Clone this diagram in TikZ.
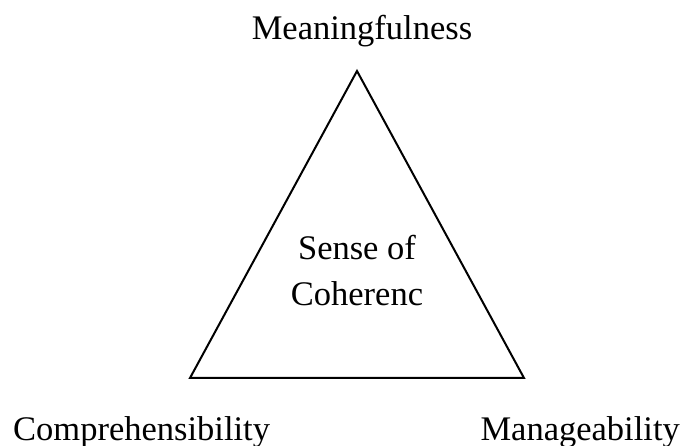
\documentclass[tikz,border=0pt]{standalone}
\usepackage{fontspec}
\setmainfont{Liberation Serif}
\begin{document}
\begin{tikzpicture}[x=1pt,y=-1pt,
  lbl/.style={inner sep=0pt,font=\fontsize{34.5}{40}\selectfont},
  tri/.style={draw=black,line width=2pt,line join=miter}]
\useasboundingbox (0,0) rectangle (683,446);
\coordinate (apex) at (357,71);
\coordinate (bl) at (190,378);
\coordinate (br) at (524,378);
\draw[tri] (apex) -- (bl) -- (br) -- cycle;
\node[lbl,anchor=base] (mean) at (362,40) {Meaningfulness};
\node[lbl,anchor=base] (sense) at (357,260) {Sense of};
\node[lbl,anchor=base] (coh) at (357,306) {Coherenc};
\node[lbl,anchor=base west] (comp) at (13,440) {Comprehensibility};
\node[lbl,anchor=base east] (man) at (680,440) {Manageability};
\end{tikzpicture}
\end{document}
